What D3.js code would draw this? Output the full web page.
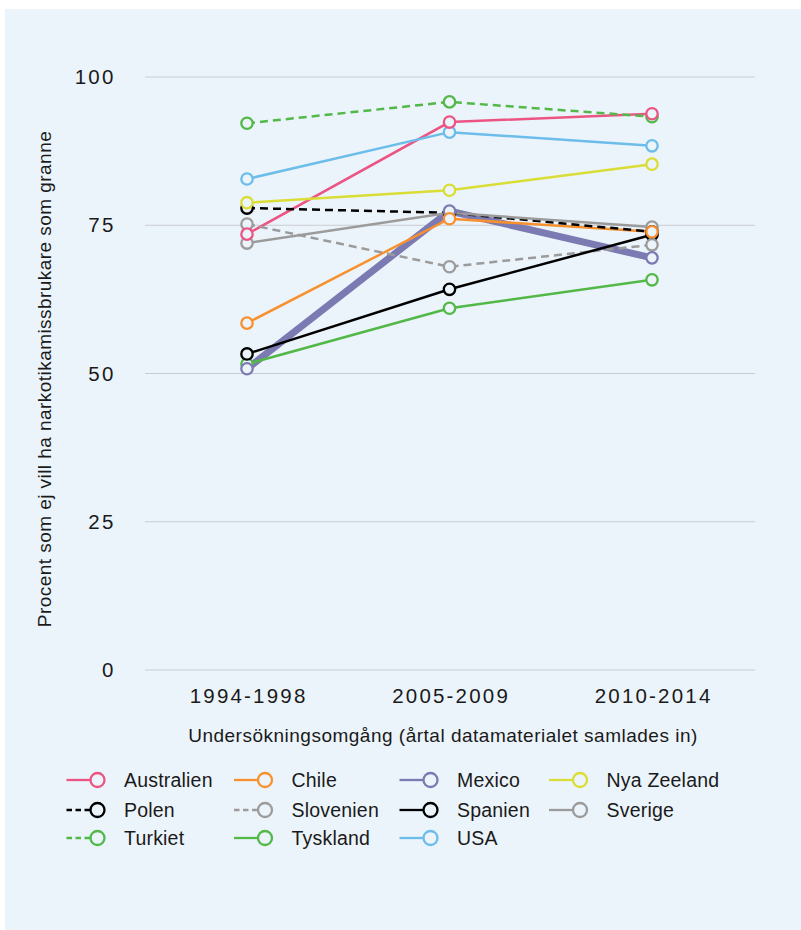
<!DOCTYPE html>
<html>
<head>
<meta charset="utf-8">
<script src="https://cdn.jsdelivr.net/npm/d3@7"></script>
<style>
  html, body { margin: 0; padding: 0; background: #ffffff; }
  svg { display: block; }
  text { font-family: "Liberation Sans", Arial, sans-serif; fill: #1a1a1a; }
</style>
</head>
<body>
<svg id="chart" width="801" height="930"></svg>
<script>
const periods = ["1994-1998", "2005-2009", "2010-2014"];
const yTicks = [0, 25, 50, 75, 100];
const countries = ["Australien", "Chile", "Mexico", "Nya Zeeland", "Polen", "Slovenien", "Spanien", "Sverige", "Turkiet", "Tyskland", "USA"];
const australien = [73.5, 92.4, 93.8];
const chile      = [58.5, 76.1, 73.9];
const mexico     = [50.8, 77.4, 69.5];
const nyaZeeland = [78.8, 80.9, 85.3];
const polen      = [77.9, 77.1, 73.9];
const slovenien  = [75.2, 68.0, 71.7];
const spanien    = [53.3, 64.2, 73.4];
const sverige    = [72.0, 77.1, 74.7];
const turkiet    = [92.2, 95.8, 93.3];
const tyskland   = [51.6, 61.0, 65.8];
const usa        = [82.8, 90.7, 88.4];
const seriesValues = [australien, chile, mexico, nyaZeeland, polen, slovenien, spanien, sverige, turkiet, tyskland, usa];
const colors = ["#EC5583", "#F7912F", "#7C7AB2", "#D9DD35", "#000000", "#9B9B9B", "#000000", "#9B9B9B", "#52B848", "#52B848", "#6DBDEA"];
const dashed = [false, false, false, false, true, true, false, false, true, false, false];
const widths = [2.5, 2.5, 7, 2.5, 2.5, 2.5, 2.5, 2.5, 2.5, 2.5, 2.5];

const bg = "#ECF4FB";
const svg = d3.select("#chart");
svg.append("rect").attr("x", 5).attr("y", 9).attr("width", 796).attr("height", 921).attr("fill", bg);

const x = d3.scalePoint().domain(periods).range([247, 652]);
const y = d3.scaleLinear().domain([0, 100]).range([670, 77]);

// grid
const grid = svg.append("g");
grid.selectAll("line").data(yTicks).join("line")
  .attr("x1", 145).attr("x2", 755)
  .attr("y1", d => y(d)).attr("y2", d => y(d))
  .attr("stroke", "#C9CCCF").attr("stroke-width", 1);

// y axis
const yAxis = svg.append("g").attr("transform", "translate(115.5,0)")
  .call(d3.axisLeft(y).tickValues(yTicks).tickSize(0).tickPadding(0));
yAxis.select(".domain").remove();
yAxis.selectAll("text").attr("font-size", 20.5).style("letter-spacing", "2.2px").style("fill", "#1a1a1a");

// x axis
const xAxis = svg.append("g").attr("transform", "translate(1.1,684)")
  .call(d3.axisBottom(x).tickSize(0).tickPadding(4));
xAxis.select(".domain").remove();
xAxis.selectAll("text").attr("font-size", 20.5).style("letter-spacing", "2.2px").style("fill", "#1a1a1a");

// axis titles
svg.append("text").attr("transform", "translate(51,379) rotate(-90)")
  .attr("text-anchor", "middle").attr("font-size", 19).style("letter-spacing", "0.45px")
  .text("Procent som ej vill ha narkotikamissbrukare som granne");
svg.append("text").attr("x", 443).attr("y", 742)
  .attr("text-anchor", "middle").attr("font-size", 19).style("letter-spacing", "0.5px")
  .text("Undersökningsomgång (årtal datamaterialet samlades in)");

const line = d3.line().x((d, i) => x(periods[i])).y(d => y(d));
const data = countries.map((c, i) => ({ name: c, values: seriesValues[i], color: colors[i], dashed: dashed[i], width: widths[i] }));

const drawOrder = [2, 0, 1, 3, 4, 5, 6, 7, 8, 9, 10];
const g = svg.append("g");
drawOrder.forEach(i => {
  const s = data[i];
  g.append("path").attr("d", line(s.values)).attr("fill", "none")
    .attr("stroke", s.color).attr("stroke-width", s.width)
    .attr("stroke-dasharray", s.dashed ? "8,5" : null);
});
[8, 9, 10, 7, 6, 5, 4, 3, 2, 1, 0].forEach(i => {
  const s = data[i];
  g.selectAll(null).data(s.values).join("circle")
    .attr("cx", (d, j) => x(periods[j])).attr("cy", d => y(d)).attr("r", 5.7)
    .attr("fill", bg).attr("stroke", s.color).attr("stroke-width", 2.3);
});

// legend
const colX = [66.5, 234, 399.5, 549];
const rowY = [780, 810, 838];
const leg = svg.append("g");
data.forEach((s, i) => {
  const cx = colX[i % 4], cy = rowY[Math.floor(i / 4)];
  leg.append("line").attr("x1", cx).attr("x2", cx + 30).attr("y1", cy).attr("y2", cy)
    .attr("stroke", s.color).attr("stroke-width", 2.3)
    .attr("stroke-dasharray", s.dashed ? "5.5,3.5" : null);
  leg.append("circle").attr("cx", cx + 31).attr("cy", cy).attr("r", 7)
    .attr("fill", bg).attr("stroke", s.color).attr("stroke-width", 2.3);
  leg.append("text").attr("x", cx + 57.5).attr("y", cy).attr("dy", "0.35em")
    .attr("font-size", 19.5).style("letter-spacing", "0.2px").text(s.name);
});
</script>
</body>
</html>
